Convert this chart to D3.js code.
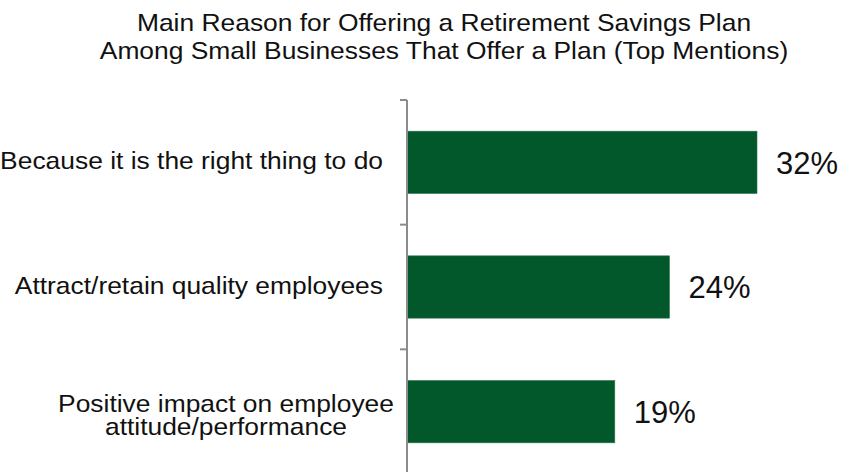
<!DOCTYPE html>
<html>
<head>
<meta charset="utf-8">
<script src="https://cdn.jsdelivr.net/npm/d3@7"></script>
<style>
  html, body { margin: 0; padding: 0; background: #fff; }
  svg { display: block; font-family: "Liberation Sans", Arial, sans-serif; }
</style>
</head>
<body>
<svg id="chart" width="842" height="472"></svg>
<script>
// Survey results: main reasons small businesses offer a retirement plan
const titleLines = [
  "Main Reason for Offering a Retirement Savings Plan",
  "Among Small Businesses That Offer a Plan (Top Mentions)"
];
const categories = [
  ["Because it is the right thing to do"],
  ["Attract/retain quality employees"],
  ["Positive impact on employee", "attitude/performance"]
];
const values = [32, 24, 19];

const svg = d3.select("#chart");
const axisX = 407;
const textStretch = 1.1; // slightly wide lettering for title and category labels

const x = d3.scaleLinear().domain([0, 32]).range([axisX, 757]);
const y = d3.scaleBand()
  .domain(d3.range(values.length))
  .range([100, 474])
  .paddingInner(0.5)
  .paddingOuter(0.25);

// Title
svg.append("g").selectAll("text")
  .data(titleLines)
  .join("text")
  .attr("transform", (d, i) => `translate(444,${30.5 + i * 28}) scale(${textStretch},1)`)
  .attr("text-anchor", "middle")
  .attr("font-size", 24)
  .attr("fill", "#111")
  .text(d => d);

// Bars
svg.append("g").selectAll("rect")
  .data(values)
  .join("rect")
  .attr("x", x(0))
  .attr("y", (d, i) => y(i))
  .attr("width", d => x(d) - x(0))
  .attr("height", y.bandwidth())
  .attr("fill", "#02572b")
  .attr("stroke", "#2f7a4f")
  .attr("stroke-width", 0.6);

// Category axis line and band-boundary ticks
const step = y.step();
const boundaries = d3.range(values.length + 1).map(i => y(0) - step * 0.25 + i * step);
const axisG = svg.append("g").attr("stroke", "#8c8c8c").attr("stroke-width", 2);
axisG.append("line")
  .attr("x1", axisX).attr("x2", axisX)
  .attr("y1", boundaries[0]).attr("y2", boundaries[boundaries.length - 1]);
axisG.selectAll("line.tick")
  .data(boundaries)
  .join("line")
  .attr("class", "tick")
  .attr("x1", axisX - 7).attr("x2", axisX)
  .attr("y1", d => d).attr("y2", d => d);

// Category labels: single lines right-aligned, wrapped labels centred
const lineH = 23.5;
svg.append("g").selectAll("text")
  .data(categories)
  .join("text")
  .attr("font-size", 24)
  .attr("fill", "#111")
  .each(function(lines, i) {
    const cy = y(i) + y.bandwidth() / 2;
    const multi = lines.length > 1;
    const t = d3.select(this)
      .attr("text-anchor", multi ? "middle" : "end")
      .attr("transform", `translate(${multi ? 226 : 383},${multi ? cy + 0.3 : cy + 7}) scale(${textStretch},1)`);
    lines.forEach((ln, j) => {
      t.append("tspan")
        .attr("x", 0)
        .attr("y", j * lineH)
        .text(ln);
    });
  });

// Value labels
svg.append("g").selectAll("text")
  .data(values)
  .join("text")
  .attr("x", d => x(d) + 19)
  .attr("y", (d, i) => y(i) + y.bandwidth() / 2)
  .attr("dy", "0.37em")
  .attr("font-size", 31)
  .attr("fill", "#111")
  .text(d => d + "%");
</script>
</body>
</html>
